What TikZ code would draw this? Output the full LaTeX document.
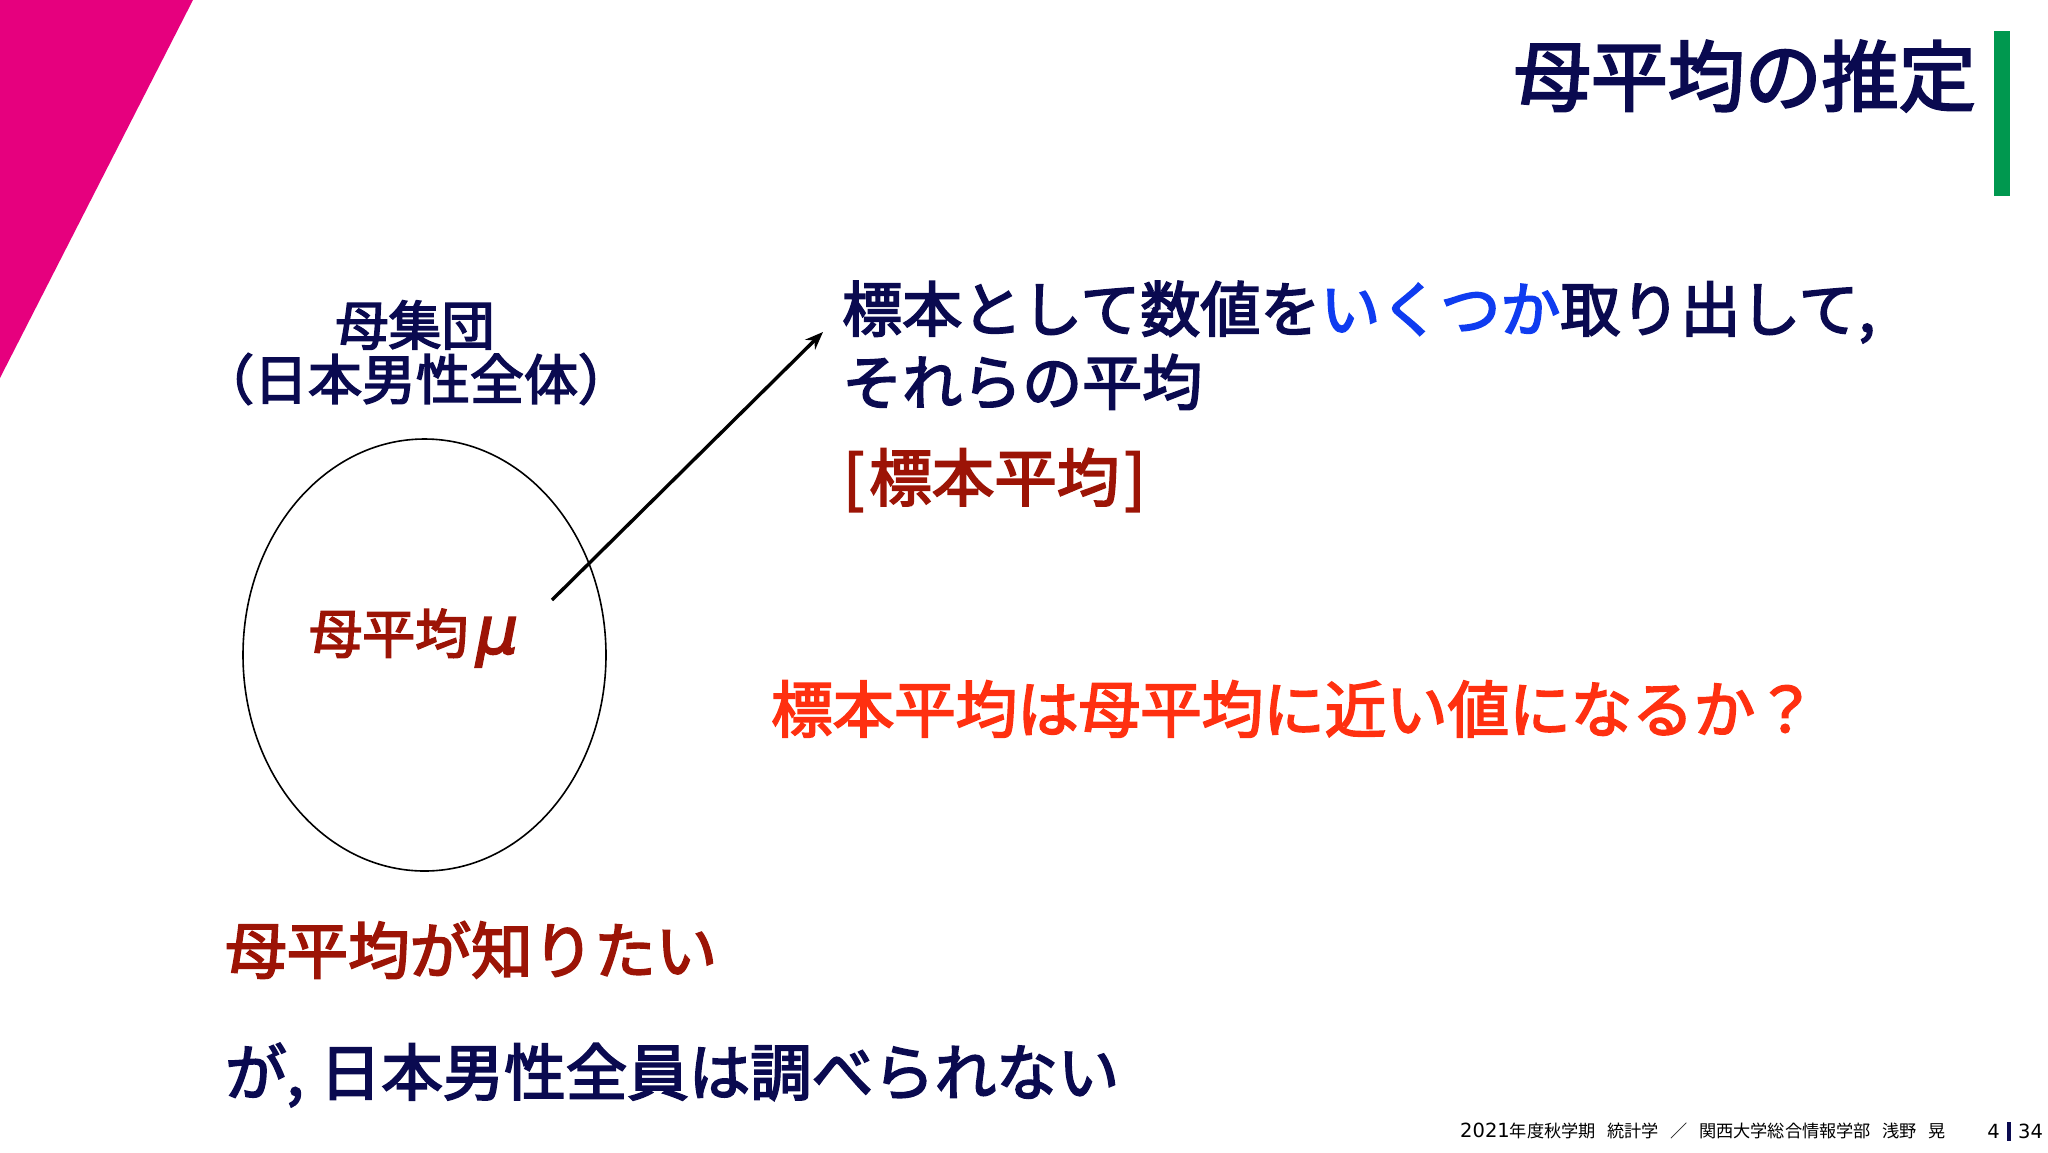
\documentclass[tikz,border=0pt]{standalone}
\usetikzlibrary{arrows.meta}
\usepackage{fontspec}
\setmainfont{Noto Sans CJK JP}[FakeBold=3]
\newfontfamily\footfont{Noto Sans CJK JP}
\newfontfamily\digitfont{DejaVu Sans}
\newfontfamily\mufont{DejaVu Sans}[FakeBold=3]
\newcommand{\dg}[1]{{\digitfont\fontsize{19.5}{19.5}\selectfont #1}}
\definecolor{navy}{HTML}{0A0A50}
\definecolor{maroon}{HTML}{9C1406}
\definecolor{vivid}{HTML}{0F3CF0}
\definecolor{alert}{HTML}{FF3010}
\definecolor{pinky}{HTML}{E6007E}
\definecolor{barcol}{HTML}{00984F}
\tikzset{
	txt/.style={inner sep=0pt,anchor=west,text=navy},
	body/.style={txt,font=\fontsize{60}{60}\selectfont},
	wide/.style={txt,font=\fontsize{61.5}{61.5}\selectfont},
	mid/.style={inner sep=0pt,text=navy,font=\fontsize{53}{53}\selectfont},
	foot/.style={inner sep=0pt,text=black,font=\footfont\fontsize{17.2}{17.2}\selectfont}
}
\begin{document}
\begin{tikzpicture}[x=1pt,y=-1pt]
	\useasboundingbox (0,0) rectangle (2048,1152);

	\fill[pinky] (0,0) -- (193,0) -- (0,378) -- cycle;
	\fill[barcol] (1994,31) rectangle (2010,196);

	\node[inner sep=0pt,anchor=east,text=navy,font=\fontsize{77}{77}\selectfont] (title) at (1976,76) {母平均の推定};

	\node[mid] (pop) at (415,325) {母集団};
	\node[mid,font=\fontsize{54}{54}\selectfont] (popsub) at (416,379) {（日本男性全体）};

	\draw[line width=1.6pt] (424.5,655) ellipse (181.5 and 216);
	\node[inner sep=0pt,anchor=west,text=maroon,font=\fontsize{53}{53}\selectfont] (popmean) at (309,638) {母平均\hspace{8pt}{\mufont\itshape\fontsize{66}{66}\selectfont μ}};

	\coordinate (start) at (552,600);
	\coordinate (end) at (823,332);
	\draw[-{Stealth[length=18pt,width=14pt]},line width=3.4pt] (start) -- (end);

	\node[body] (line1) at (842,312) {標本として数値を\textcolor{vivid}{いくつか}取り出して,};
	\node[body] (line2) at (842,382) {それらの平均};
	\node[body,text=maroon,font=\fontsize{62.5}{62.5}\selectfont] (smean) at (843,480) {[\hspace{5pt}標本平均\hspace{5pt}]};
	\node[wide,text=alert] (question) at (771,709) {標本平均は母平均に近い値になるか？};
	\node[wide,text=maroon] (want) at (225,950) {母平均が知りたい};
	\node[wide] (cannot) at (225,1075) {が,\hspace{16pt}日本男性全員は調べられない};

	\node[foot,anchor=west] (course) at (1460,1131) {\dg{2021}年度秋学期\hspace{0.67em}統計学\hspace{0.67em}／\hspace{0.67em}関西大学総合情報学部\hspace{0.67em}浅野\hspace{0.67em}晃};
	\node[foot,anchor=east] (page) at (2000,1131) {\dg{4}};
	\fill[navy] (2007,1122) rectangle (2011,1141);
	\node[foot,anchor=west] (total) at (2018,1131) {\dg{34}};
\end{tikzpicture}
\end{document}
